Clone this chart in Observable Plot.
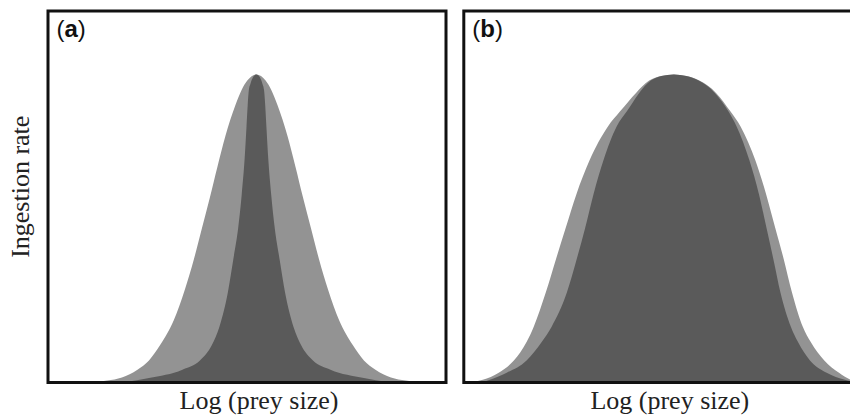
<!DOCTYPE html>
<html>
<head>
<meta charset="utf-8">
<script src="https://cdn.jsdelivr.net/npm/d3@7"></script>
<script src="https://cdn.jsdelivr.net/npm/@observablehq/plot@0.6"></script>
<style>
  html, body { margin: 0; padding: 0; background: #fff; overflow: hidden; }
  #wrap { position: relative; width: 850px; height: 417px; overflow: hidden; }
  #pa, #pb { position: absolute; top: 0; width: 455px; height: 417px; }
  #pa { left: 0; }
  #pb { left: 455px; }
  #wrap svg { max-width: none !important; display: block; }
</style>
</head>
<body>
<div id="wrap"><div id="pa"></div><div id="pb"></div></div>
<script>
// ---- Texts ----
const panelTags = ["a", "b"];
const xLabel = "Log (prey size)";
const yLabel = "Ingestion rate";

// ---- Panel (a): x = log prey size (arbitrary units 0–10), y = relative ingestion rate ----
const aLightX = [1.15, 1.50, 1.87, 2.26, 2.55, 2.83, 3.17, 3.45, 3.68, 3.88, 4.08, 4.27, 4.47, 4.72, 4.88, 5.02, 5.25,
                 5.48, 5.62, 5.78, 6.03, 6.23, 6.42, 6.62, 6.82, 7.05, 7.33, 7.67, 7.95, 8.24, 8.63, 9.00, 9.35];
const aLightY = [0, 0.005, 0.015, 0.04, 0.07, 0.12, 0.20, 0.30, 0.40, 0.50, 0.60, 0.70, 0.80, 0.90, 0.95, 0.98, 1,
                 0.98, 0.95, 0.90, 0.80, 0.70, 0.60, 0.50, 0.40, 0.30, 0.20, 0.12, 0.07, 0.04, 0.015, 0.005, 0];
const aDarkX  = [1.95, 2.55, 3.39, 3.83, 4.13, 4.32, 4.53, 4.67, 4.79, 4.88, 4.95, 5.00, 5.03, 5.06, 5.10, 5.16, 5.25,
                 5.34, 5.40, 5.44, 5.47, 5.50, 5.55, 5.62, 5.71, 5.83, 5.97, 6.18, 6.37, 6.67, 7.11, 7.95, 8.55];
const aDarkY  = [0, 0.013, 0.04, 0.07, 0.12, 0.18, 0.29, 0.40, 0.50, 0.61, 0.72, 0.83, 0.90, 0.95, 0.97, 0.99, 1,
                 0.99, 0.97, 0.95, 0.90, 0.83, 0.72, 0.61, 0.50, 0.40, 0.29, 0.18, 0.12, 0.07, 0.04, 0.013, 0];

// ---- Panel (b) ----
const bLightX = [0.24, 0.49, 0.89, 1.27, 1.59, 1.77, 2.07, 2.33, 2.57, 2.84, 3.17, 3.63, 3.94, 4.34, 4.67, 4.97, 5.29,
                 5.61, 5.93, 6.35, 6.71, 6.97, 7.34, 7.61, 7.84, 8.05, 8.26, 8.53, 8.73, 9.07, 9.44, 9.74, 10.03];
const bLightY = [0, 0.007, 0.03, 0.07, 0.13, 0.18, 0.29, 0.40, 0.50, 0.61, 0.72, 0.83, 0.88, 0.94, 0.98, 0.995, 1,
                 0.995, 0.98, 0.94, 0.88, 0.83, 0.72, 0.61, 0.50, 0.40, 0.29, 0.18, 0.13, 0.07, 0.03, 0.007, 0];
const bDarkX  = [0.52, 0.67, 1.09, 1.59, 1.97, 2.22, 2.60, 2.85, 3.06, 3.27, 3.52, 3.85, 4.11, 4.42, 4.71, 4.98, 5.29,
                 5.60, 5.91, 6.32, 6.66, 6.87, 7.19, 7.43, 7.62, 7.79, 7.97, 8.23, 8.41, 8.71, 9.13, 9.59, 9.84];
const bDarkY  = [0, 0.007, 0.03, 0.07, 0.13, 0.18, 0.29, 0.40, 0.50, 0.61, 0.72, 0.83, 0.88, 0.94, 0.98, 0.995, 1,
                 0.995, 0.98, 0.94, 0.88, 0.83, 0.72, 0.61, 0.50, 0.40, 0.29, 0.18, 0.13, 0.07, 0.03, 0.007, 0];

const lightGray = "#939393";
const darkGray = "#5a5a5a";
const ink = "#111111";
const serif = "Liberation Serif, Times New Roman, serif";

function panel({tag, lightX, lightY, darkX, darkY, width, marginLeft, marginRight, labelDx, withYLabel}) {
  const light = lightX.map((x, i) => ({x, y: lightY[i]}));
  const dark = darkX.map((x, i) => ({x, y: darkY[i]}));
  const marks = [
    Plot.areaY(light, {x: "x", y: "y", fill: lightGray, curve: "monotone-x"}),
    Plot.areaY(dark, {x: "x", y: "y", fill: darkGray, curve: "monotone-x"}),
    Plot.frame({stroke: ink, strokeWidth: 3}),
    Plot.text([`(${tag})`], {text: d => d, frameAnchor: "top-left", textAnchor: "start", lineAnchor: "top",
      dx: 8.5, dy: 8.5, fontSize: 24, fontFamily: "Liberation Sans, Arial, sans-serif", fill: ink}),
    Plot.text([xLabel], {text: d => d, frameAnchor: "bottom", textAnchor: "middle", lineAnchor: "middle",
      dx: labelDx, dy: 18, fontSize: 26, fontFamily: serif, fill: "#222"})
  ];
  if (withYLabel) {
    marks.push(Plot.text([yLabel], {text: d => d, frameAnchor: "left", textAnchor: "middle", lineAnchor: "middle",
      rotate: -90, dx: -27, dy: -10, fontSize: 26, fontFamily: serif, fill: "#222"}));
  }
  const svg = Plot.plot({
    width, height: 417,
    marginLeft, marginRight, marginTop: 10.5, marginBottom: 35,
    x: {domain: [0, 10], axis: null},
    y: {domain: [0, 1.208], axis: null},
    style: {background: "transparent"},
    marks
  });
  svg.querySelectorAll("text").forEach(t => {
    if (t.textContent === `(${tag})`) {
      t.textContent = "";
      t.append("(");
      const ts = document.createElementNS("http://www.w3.org/2000/svg", "tspan");
      ts.setAttribute("font-weight", "bold");
      ts.textContent = tag;
      t.append(ts);
      t.append(")");
    }
  });
  return svg;
}

document.getElementById("pa").append(panel({
  tag: panelTags[0], lightX: aLightX, lightY: aLightY, darkX: aDarkX, darkY: aDarkY,
  width: 455, marginLeft: 47.5, marginRight: 9.5, labelDx: 12, withYLabel: true
}));
document.getElementById("pb").append(panel({
  tag: panelTags[1], lightX: bLightX, lightY: bLightY, darkX: bDarkX, darkY: bDarkY,
  width: 455, marginLeft: 8.3, marginRight: 48.7, labelDx: 7, withYLabel: false
}));
</script>
</body>
</html>
